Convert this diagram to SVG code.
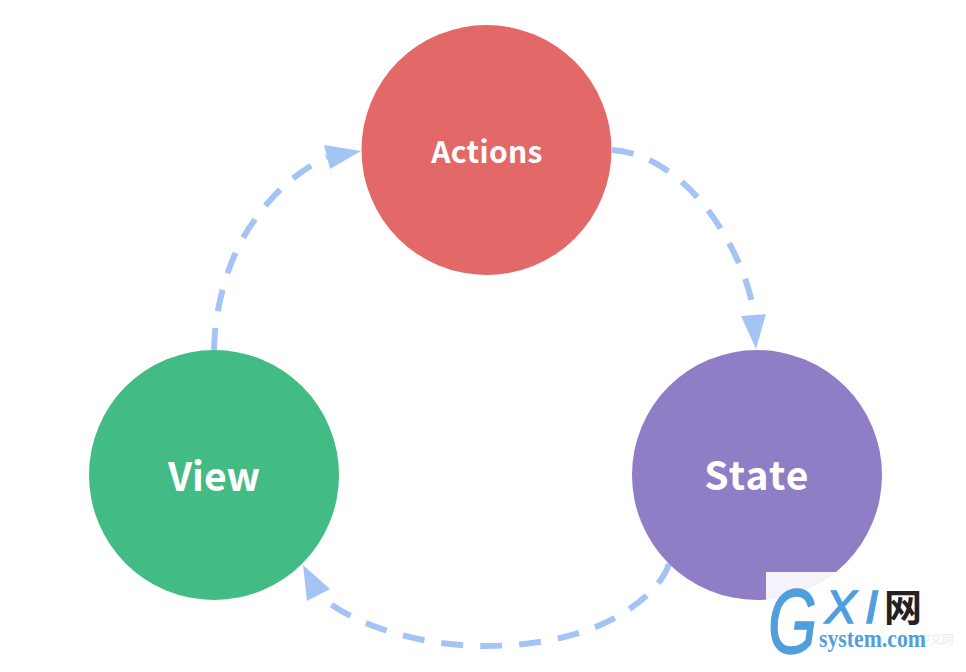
<svg xmlns="http://www.w3.org/2000/svg" width="966" height="672" viewBox="0 0 966 672">
<style>
.c{stroke:none}
.t{font-family:"Noto Sans CJK SC","Noto Sans",sans-serif;font-weight:700;fill:#fff;text-anchor:middle}
.l{fill:none;stroke:#a5c4f6;stroke-width:6;stroke-dasharray:22 17}
.a{fill:#a5c4f6}
.w{font-family:"Liberation Sans",sans-serif;font-style:italic;fill:#4f9fdc;stroke:#4f9fdc;stroke-width:1.500}
</style>
<rect width="966" height="672" fill="#fff"/>
<g id="connectors">
<path class="l" d="M612 150C650 152 690 180 719 226C738 256 752 290 754 318"/>
<path class="a" d="M741 316L766 314L756 349Z"/>
<path class="l" d="M669 564C660 590 630 612 598 626C565 640 525 646 485 646C430 646 360 630 320 596"/>
<path class="a" d="M303 565L330 589L307 601Z"/>
<path class="l" d="M214 350C215 300 232 250 254 221C275 190 300 170 327 157"/>
<path class="a" d="M324 145L361 151L330 169Z"/>
</g>
<g id="actions"><circle class="c" cx="486.500" cy="150" r="125" fill="#e36868"/><text class="t" x="487" y="163" font-size="30" letter-spacing="0.3">Actions</text></g>
<g id="state"><circle class="c" cx="757" cy="475" r="125" fill="#8f7ec6"/><text class="t" x="757" y="490" font-size="39" letter-spacing="1.200">State</text></g>
<g id="view"><circle class="c" cx="214" cy="475" r="125" fill="#43bb84"/><text class="t" x="214" y="491" font-size="39">View</text></g>
<g id="watermark">
<rect x="766" y="572" width="70" height="90" fill="#fff" fill-opacity="0.9"/>
<text class="w" x="768" y="653" font-size="90" textLength="49" lengthAdjust="spacingAndGlyphs">G</text>
<text class="w" x="825" y="623" font-size="47">X</text>
<text class="w" x="865" y="623" font-size="47">I</text>
<text x="884" y="621" font-family="Noto Sans CJK SC,sans-serif" font-size="38" font-weight="700" fill="#222">网</text>
<text x="918" y="644" font-family="Noto Sans CJK SC,sans-serif" font-size="12" fill="#ececec">中文网</text>
<text x="819" y="647" font-family="Liberation Serif,serif" font-size="25" font-weight="700" fill="#4f9fdc" textLength="107" lengthAdjust="spacingAndGlyphs">system.com</text>
</g>
</svg>
